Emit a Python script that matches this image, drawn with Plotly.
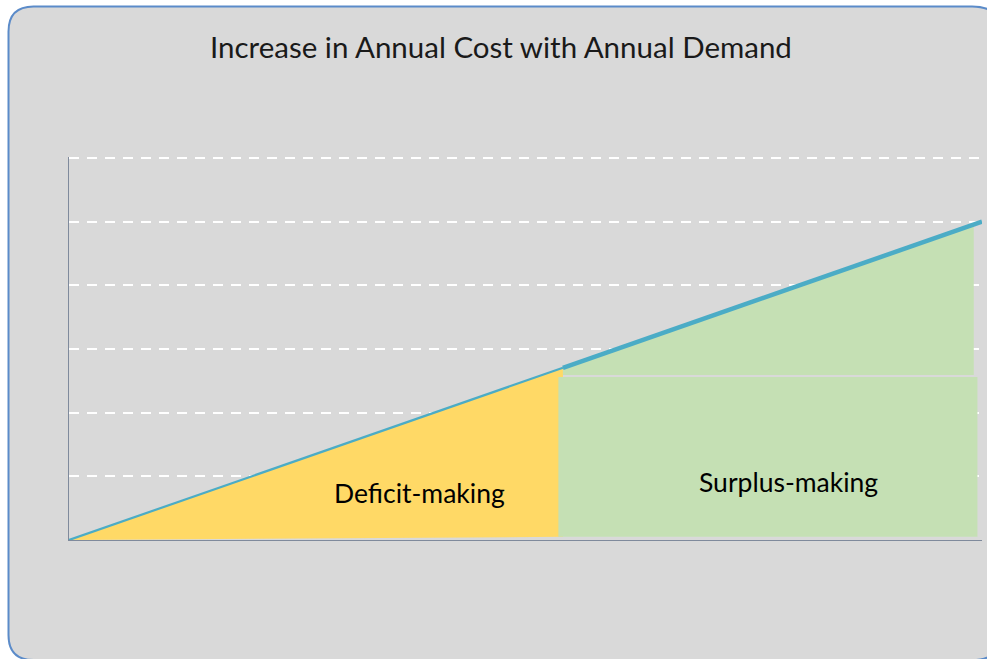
import plotly.graph_objects as go

# ---- data ----
demand = [0, 100]                 # annual demand (arbitrary units)
annual_cost = [0, 5]              # annual cost along the line
break_demand = 54.1               # break-even point along demand
break_cost = 2.705

deficit_x = [0, 54.1, 54.1, 0]
deficit_y = [0, 2.705, 0.05, 0]
surplus_rect_x = [53.6, 99.5, 99.5, 53.6, 53.6]
surplus_rect_y = [0.05, 0.05, 2.56, 2.56, 0.05]
surplus_tri_x = [54.1, 99.1, 99.1, 54.1, 54.1]
surplus_tri_y = [2.705, 4.955, 2.59, 2.59, 2.705]

title_text = "Increase in Annual Cost with Annual Demand"
label_deficit = "Deficit-making"
label_surplus = "Surplus-making"

W, H = 987, 659
L, R, T, B = 69, 982, 157, 540   # screen pixels of the plot area
YMAX = 6.016

YELLOW = "#ffd966"
GREEN = "#c5e0b4"
BLUE = "#4bacc6"
BG = "#d9d9d9"
AXIS = "#7f8a9c"

fig = go.Figure()
fig.add_trace(go.Scatter(x=deficit_x, y=deficit_y, fill="toself", fillcolor=YELLOW,
                         mode="none", hoverinfo="skip", showlegend=False))
fig.add_trace(go.Scatter(x=surplus_rect_x, y=surplus_rect_y, fill="toself", fillcolor=GREEN,
                         mode="none", hoverinfo="skip", showlegend=False))
fig.add_trace(go.Scatter(x=surplus_tri_x, y=surplus_tri_y, fill="toself", fillcolor=GREEN,
                         mode="none", hoverinfo="skip", showlegend=False))
fig.add_trace(go.Scatter(x=[demand[0], break_demand], y=[annual_cost[0], break_cost],
                         mode="lines", line=dict(color=BLUE, width=2.2),
                         hoverinfo="skip", showlegend=False))
fig.add_trace(go.Scatter(x=[break_demand, demand[1]], y=[break_cost, annual_cost[1]],
                         mode="lines", line=dict(color=BLUE, width=4.5),
                         hoverinfo="skip", showlegend=False))


def px(x):
    return (x - L) / (R - L)


def py(y):
    return (B - y) / (B - T)


# rounded frame in screen pixel coords (left corners r1, right corners r2)
x0, y0, x1, y1, r1, r2 = 8.5, 6.5, 1003, 660, 25, 31
path = (f"M {px(x0+r1)},{py(y0)} L {px(x1-r2)},{py(y0)} "
        f"Q {px(x1)},{py(y0)} {px(x1)},{py(y0+r2)} "
        f"L {px(x1)},{py(y1-r2)} Q {px(x1)},{py(y1)} {px(x1-r2)},{py(y1)} "
        f"L {px(x0+r1)},{py(y1)} Q {px(x0)},{py(y1)} {px(x0)},{py(y1-r1)} "
        f"L {px(x0)},{py(y0+r1)} Q {px(x0)},{py(y0)} {px(x0+r1)},{py(y0)} Z")

fig.update_layout(
    width=W, height=H,
    margin=dict(l=L, r=W - R, t=T, b=H - B),
    paper_bgcolor="white",
    plot_bgcolor="rgba(0,0,0,0)",
    shapes=[dict(type="path", path=path, xref="paper", yref="paper",
                 fillcolor=BG, line=dict(color="#5b8bc9", width=2), layer="below")],
    xaxis=dict(range=[0, 100], showgrid=False, zeroline=False, showticklabels=False,
               showline=True, linecolor=AXIS, linewidth=1, ticks=""),
    yaxis=dict(range=[0, YMAX], dtick=1, showgrid=True, gridcolor="white", gridwidth=2,
               griddash="10px,8px", zeroline=False, showticklabels=False,
               showline=True, linecolor=AXIS, linewidth=1, ticks=""),
    annotations=[
        dict(text=title_text, xref="paper", yref="paper", x=px(501), y=py(47),
             xanchor="center", yanchor="middle", showarrow=False,
             font=dict(family="Lato", size=29.5, color="#1a1a1a")),
        dict(text=label_deficit, xref="paper", yref="paper", x=px(419), y=py(493),
             xanchor="center", yanchor="middle", showarrow=False,
             font=dict(family="Lato", size=26.5, color="black")),
        dict(text=label_surplus, xref="paper", yref="paper", x=px(788), y=py(482),
             xanchor="center", yanchor="middle", showarrow=False,
             font=dict(family="Lato", size=26.5, color="black")),
    ],
)

fig.write_html("out.html", config={"displayModeBar": False},
               post_script="document.body.style.margin='0';"
                           "document.body.style.overflow='hidden';")
